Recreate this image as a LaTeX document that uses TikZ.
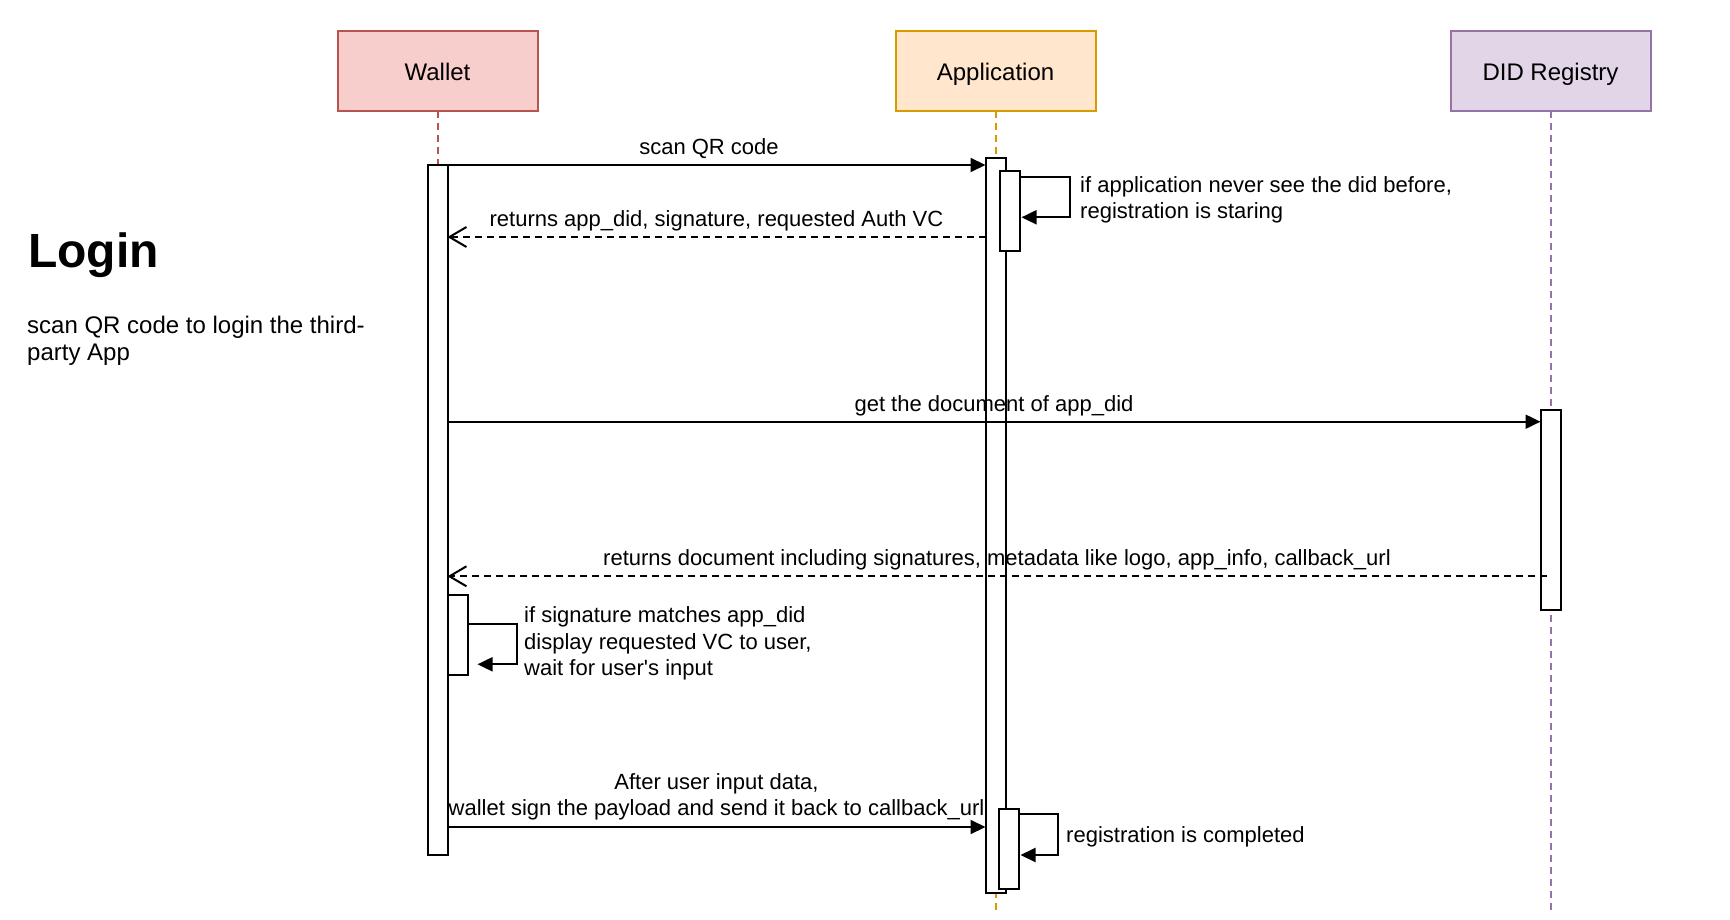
\documentclass[tikz,border=0pt]{standalone}
\usepackage{fontspec}
\setmainfont{Liberation Sans}
\usetikzlibrary{positioning,arrows.meta}
\definecolor{walletfill}{HTML}{F8CECC}
\definecolor{walletline}{HTML}{B85450}
\definecolor{appfill}{HTML}{FFE6CC}
\definecolor{appline}{HTML}{D79B00}
\definecolor{didfill}{HTML}{E1D5E7}
\definecolor{didline}{HTML}{9673A6}

\begin{document}
\begin{tikzpicture}[x=1pt,y=-1pt,
actor/.style = {draw, line width=2pt, minimum width=200pt, minimum height=80pt, inner sep=0pt, outer sep=0pt, text height=19.4pt, text depth=0pt, font=\fontsize{24}{29}\selectfont},
bar/.style = {draw, fill=white, line width=2pt, minimum width=20pt, inner sep=0pt, outer sep=0pt},
life/.style = {line width=2pt, dash pattern=on 7pt off 5pt},
msg/.style = {line width=2pt, -{Triangle[length=15pt,width=14pt]}},
ret/.style = {line width=2pt, dash pattern=on 7pt off 5pt, -{Straight Barb[length=17pt,width=20pt]}},
lbl/.style = {font=\fontsize{22}{26.4}\selectfont, inner sep=0pt, text depth=4.6pt},
note/.style = {font=\fontsize{22}{26.4}\selectfont, inner sep=0pt, align=left, anchor=north west},
node distance=558pt]
\useasboundingbox (0,0) rectangle (1730,920);
\node[actor, fill=walletfill, draw=walletline] (wallet) at (437.5,70.7) {Wallet};
\node[actor, fill=appfill, draw=appline] (app) [right of=wallet] {Application};
\node[actor, fill=didfill, draw=didline] (did) [right of=app, node distance=555pt] {DID Registry};
\draw[life, walletline] (wallet) -- (wallet.south |- 0,165);
\draw[life, appline] (app) -- (app.south |- 0,911);
\draw[life, didline] (did) -- (did.south |- 0,911);
\node[bar, minimum height=690pt] (wbar) [below=54.3pt of wallet] {};
\node[bar, minimum height=735pt] (abar) [below=47.3pt of app] {};
\node[bar, minimum height=80pt] (abar1) [below right=13pt and 4pt of abar.north] {};
\node[bar, minimum height=80pt] (abar2) [below right=651pt and 3pt of abar.north] {};
\node[bar, minimum height=80pt] (wbar1) [below right=430pt and 0pt of wbar.north east] {};
\node[bar, minimum height=200.6pt] (dbar) [below=299pt of did] {};
\coordinate (m2) at ([yshift=14pt]abar1.south);
\coordinate (m3) at ([yshift=-12pt]dbar.north west);
\coordinate (m4) at ([xshift=-4pt,yshift=34pt]dbar.south);
\coordinate (m5) at ([yshift=28pt]wbar.south east);
\draw[msg] (wbar.north east) -- node[lbl, above=5pt, xshift=-7.5pt] {scan QR code} (wbar.north east -| abar.west);
\draw[ret] (abar.west |- m2) -- node[lbl, above=5pt] {returns app\_did, signature, requested Auth VC} (wbar.east |- m2);
\draw[msg] (wbar.east |- m3) -- node[lbl, above=5pt] {get the document of app\_did} (m3);
\draw[ret] (m4) -- node[lbl, above=5pt] {returns document including signatures, metadata like logo, app\_info, callback\_url} (wbar.east |- m4);
\draw[msg] (m5) -- node[above=6pt, align=center, inner sep=0pt, font=\fontsize{22}{26.4}\selectfont] {After user input data,\\wallet sign the payload and send it back to callback\_url} (m5 -| abar.west);
\draw[msg] ([yshift=-6.3pt]abar1.north east) -- ++(50.5,0) |- ([xshift=2pt,yshift=-46.3pt]abar1.north east);
\draw[msg] ([yshift=-29.3pt]wbar1.north east) -- ++(49.7,0) |- ([xshift=10pt,yshift=-69.3pt]wbar1.north east);
\draw[msg] ([yshift=-5.3pt]abar2.north east) -- ++(39.5,0) |- ([xshift=2pt,yshift=-46pt]abar2.north east);
\node[note] (n1) at (1080,176) {if application never see the did before,\\registration is staring};
\node[note] (n2) at (524,606.5) {if signature matches app\_did\\display requested VC to user,\\wait for user\textquotesingle s input};
\node[lbl, anchor=base west] (n3) at (1066,842.5) {registration is completed};
\node[font=\bfseries\fontsize{48}{58}\selectfont, anchor=base west, inner sep=0pt] (title) at (28,267) {Login};
\node[note, font=\fontsize{24}{27.6}\selectfont] (desc) at (27,315.6) {scan QR code to login the third-\\party App};
\end{tikzpicture}
\end{document}
